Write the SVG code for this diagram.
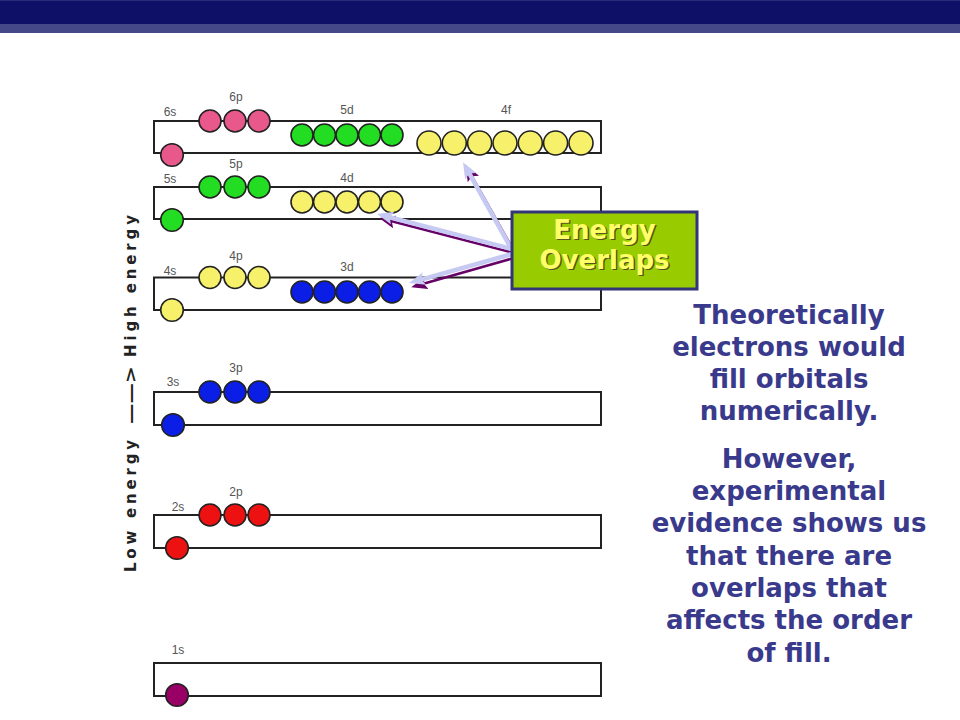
<svg xmlns="http://www.w3.org/2000/svg" width="960" height="720" viewBox="0 0 960 720">
<style>
.lvl{fill:#ffffff;stroke:#222222;stroke-width:2}
.lbl{font-family:"Liberation Sans",Arial,sans-serif;font-size:12px;fill:#555555;text-anchor:middle}
.b{stroke:#222222;stroke-width:1.6}
.pk{fill:#e8588a}.gr{fill:#22dd22}.ye{fill:#f6f06a}.bl{fill:#0a1ee6}.rd{fill:#ee1111}.pu{fill:#990066}
.body{font-family:"DejaVu Sans",Verdana,sans-serif;font-weight:bold;font-size:26px;fill:#3a3a8c;text-anchor:middle}
.eo{font-family:"DejaVu Sans",Verdana,sans-serif;font-weight:bold;font-size:26px;text-anchor:middle}
.axis{font-family:"DejaVu Sans",Verdana,sans-serif;font-weight:bold;font-size:15px;fill:#222222;text-anchor:middle}
.sh{stroke:#660066;stroke-width:2.5;fill:none}
.ln{stroke:#c6c9f2;stroke-width:4.5;fill:none}
</style>
<defs>
<marker id="hp" markerUnits="userSpaceOnUse" markerWidth="16" markerHeight="13" refX="8" refY="6.5" orient="auto" viewBox="0 0 16 13"><path d="M0,0 L16,6.5 L0,13 L3,6.5 z" fill="#660066"/></marker>
<marker id="hl" markerUnits="userSpaceOnUse" markerWidth="16" markerHeight="13" refX="8" refY="6.5" orient="auto" viewBox="0 0 16 13"><path d="M0,0 L16,6.5 L0,13 L3,6.5 z" fill="#c6c9f2"/></marker>
</defs>
<rect x="0" y="0" width="960" height="720" fill="#ffffff"/>
<g id="header">
<rect x="0" y="0" width="960" height="24" fill="#0e0f66"/>
<rect x="0" y="0" width="960" height="1" fill="#2a2b78"/>
<rect x="0" y="24" width="960" height="9" fill="#444888"/>
</g>
<g id="axis">
<text class="axis" transform="translate(136,506) rotate(-90)" textLength="132" lengthAdjust="spacing">Low energy</text>
<text class="axis" transform="translate(136,395) rotate(-90)" textLength="58" lengthAdjust="spacingAndGlyphs">——&gt;</text>
<text class="axis" transform="translate(136,286) rotate(-90)" textLength="142" lengthAdjust="spacing">High energy</text>
</g>
<g id="level6">
<rect class="lvl" x="154" y="121" width="447" height="32"/>
<text class="lbl" x="170" y="116">6s</text><text class="lbl" x="236" y="101">6p</text><text class="lbl" x="347" y="114">5d</text><text class="lbl" x="506" y="114">4f</text>
<circle class="b pk" cx="172" cy="155" r="11.3"/>
<circle class="b pk" cx="210" cy="121" r="11"/><circle class="b pk" cx="235" cy="121" r="11"/><circle class="b pk" cx="259" cy="121" r="11"/>
<circle class="b gr" cx="302" cy="135" r="11"/><circle class="b gr" cx="324.5" cy="135" r="11"/><circle class="b gr" cx="347" cy="135" r="11"/><circle class="b gr" cx="369.5" cy="135" r="11"/><circle class="b gr" cx="392" cy="135" r="11"/>
<circle class="b ye" cx="429" cy="143" r="12"/><circle class="b ye" cx="454.3" cy="143" r="12"/><circle class="b ye" cx="479.6" cy="143" r="12"/><circle class="b ye" cx="505" cy="143" r="12"/><circle class="b ye" cx="530.3" cy="143" r="12"/><circle class="b ye" cx="555.6" cy="143" r="12"/><circle class="b ye" cx="581" cy="143" r="12"/>
</g>
<g id="level5">
<rect class="lvl" x="154" y="187" width="447" height="32"/>
<text class="lbl" x="170" y="183">5s</text><text class="lbl" x="236" y="168">5p</text><text class="lbl" x="347" y="182">4d</text>
<circle class="b gr" cx="172" cy="220" r="11.3"/>
<circle class="b gr" cx="210" cy="187" r="11"/><circle class="b gr" cx="235" cy="187" r="11"/><circle class="b gr" cx="259" cy="187" r="11"/>
<circle class="b ye" cx="302" cy="202" r="11"/><circle class="b ye" cx="324.5" cy="202" r="11"/><circle class="b ye" cx="347" cy="202" r="11"/><circle class="b ye" cx="369.5" cy="202" r="11"/><circle class="b ye" cx="392" cy="202" r="11"/>
</g>
<g id="level4">
<rect class="lvl" x="154" y="277.5" width="447" height="32.5"/>
<text class="lbl" x="170" y="275">4s</text><text class="lbl" x="236" y="260">4p</text><text class="lbl" x="347" y="271">3d</text>
<circle class="b ye" cx="172" cy="310" r="11.3"/>
<circle class="b ye" cx="210" cy="277.5" r="11"/><circle class="b ye" cx="235" cy="277.5" r="11"/><circle class="b ye" cx="259" cy="277.5" r="11"/>
<circle class="b bl" cx="302" cy="292" r="11"/><circle class="b bl" cx="324.5" cy="292" r="11"/><circle class="b bl" cx="347" cy="292" r="11"/><circle class="b bl" cx="369.5" cy="292" r="11"/><circle class="b bl" cx="392" cy="292" r="11"/>
</g>
<g id="level3">
<rect class="lvl" x="154" y="392" width="447" height="33"/>
<text class="lbl" x="173" y="386">3s</text><text class="lbl" x="236" y="372">3p</text>
<circle class="b bl" cx="173" cy="425" r="11.3"/>
<circle class="b bl" cx="210" cy="392" r="11"/><circle class="b bl" cx="235" cy="392" r="11"/><circle class="b bl" cx="259" cy="392" r="11"/>
</g>
<g id="level2">
<rect class="lvl" x="154" y="515" width="447" height="33"/>
<text class="lbl" x="178" y="511">2s</text><text class="lbl" x="236" y="496">2p</text>
<circle class="b rd" cx="177" cy="548" r="11.3"/>
<circle class="b rd" cx="210" cy="515" r="11"/><circle class="b rd" cx="235" cy="515" r="11"/><circle class="b rd" cx="259" cy="515" r="11"/>
</g>
<g id="level1">
<rect class="lvl" x="154" y="663" width="447" height="33"/>
<text class="lbl" x="178" y="654">1s</text>
<circle class="b pu" cx="177" cy="695" r="11.3"/>
</g>
<g id="connectors">
<line class="sh" x1="515" y1="253" x2="469.5" y2="172" marker-end="url(#hp)"/>
<line class="ln" x1="512" y1="250" x2="466.9" y2="169.2" marker-end="url(#hl)"/>
<line class="sh" x1="514" y1="253" x2="387" y2="220" marker-end="url(#hp)"/>
<line class="ln" x1="512" y1="249" x2="384.8" y2="216" marker-end="url(#hl)"/>
<line class="sh" x1="514" y1="258" x2="419" y2="285" marker-end="url(#hp)"/>
<line class="ln" x1="512" y1="254" x2="416.7" y2="280.8" marker-end="url(#hl)"/>
</g>
<g id="energy-overlaps">
<rect x="512" y="212" width="185" height="77" fill="#99cc00" stroke="#333377" stroke-width="3"/>
<text class="eo" x="606" y="240" fill="#555522">Energy</text>
<text class="eo" x="604.5" y="238.5" fill="#ffff66">Energy</text>
<text class="eo" x="606" y="270" fill="#555522">Overlaps</text>
<text class="eo" x="604.5" y="268.5" fill="#ffff66">Overlaps</text>
</g>
<g id="explanation">
<text class="body" x="789" y="324">Theoretically</text>
<text class="body" x="789" y="356">electrons would</text>
<text class="body" x="789" y="388">fill orbitals</text>
<text class="body" x="789" y="420">numerically.</text>
<text class="body" x="789" y="468">However,</text>
<text class="body" x="789" y="500">experimental</text>
<text class="body" x="789" y="532">evidence shows us</text>
<text class="body" x="789" y="565">that there are</text>
<text class="body" x="789" y="597">overlaps that</text>
<text class="body" x="789" y="629">affects the order</text>
<text class="body" x="789" y="662">of fill.</text>
</g>
</svg>
